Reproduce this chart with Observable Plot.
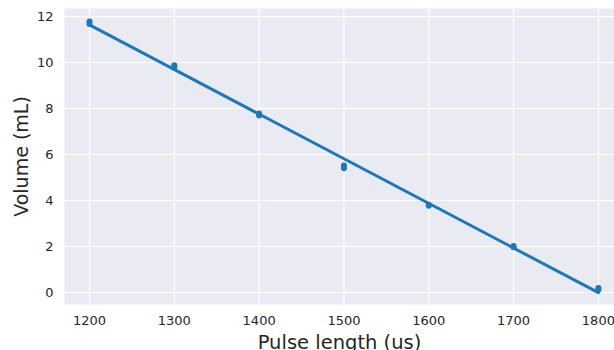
<!DOCTYPE html>
<html>
<head>
<meta charset="utf-8">
<script src="https://cdn.jsdelivr.net/npm/d3@7"></script>
<script src="https://cdn.jsdelivr.net/npm/@observablehq/plot@0.6"></script>
<style>
  html, body { margin: 0; padding: 0; background: #fff; overflow: hidden; }
  svg { display: block; }
</style>
</head>
<body>
<div id="chart"></div>
<script>
const pulseLengths = [1200, 1300, 1400, 1500, 1600, 1700, 1800];
const volumeRun1 = [11.78, 9.88, 7.78, 5.52, 3.82, 2.02, 0.20];
const volumeRun2 = [11.68, 9.80, 7.70, 5.40, 3.77, 1.97, 0.12];
const xTicks = [1200, 1300, 1400, 1500, 1600, 1700, 1800];
const yTicks = [0, 2, 4, 6, 8, 10, 12];
const xLabel = "Pulse length (us)";
const yLabel = "Volume (mL)";

const data = [];
pulseLengths.forEach((p, i) => {
  data.push({pulse: p, volume: volumeRun1[i]});
  data.push({pulse: p, volume: volumeRun2[i]});
});

const blue = "#1f77b4";
const ink = "#262626";

const chart = Plot.plot({
  width: 614,
  height: 350,
  marginLeft: 64,
  marginRight: 0,
  marginTop: 8,
  marginBottom: 46,
  style: {fontFamily: "DejaVu Sans", background: "#fff"},
  x: {domain: [1170.5, 1819], ticks: xTicks},
  y: {domain: [-0.52, 12.35], ticks: yTicks},
  marks: [
    Plot.frame({fill: "#EAEAF2", stroke: null}),
    Plot.gridX(xTicks, {stroke: "#fff", strokeOpacity: 1, strokeWidth: 1.1}),
    Plot.gridY(yTicks, {stroke: "#fff", strokeOpacity: 1, strokeWidth: 1.1}),
    Plot.axisX(xTicks, {tickSize: 0, tickPadding: 11, fontSize: 13, fill: ink, label: null, tickFormat: d3.format("d")}),
    Plot.axisY(yTicks, {tickSize: 0, tickPadding: 11, fontSize: 13, fill: ink, label: null, tickFormat: d3.format("d")}),
    Plot.linearRegressionY(data, {x: "pulse", y: "volume", ci: 0, stroke: blue, strokeWidth: 3}),
    Plot.dot(data, {x: "pulse", y: "volume", r: 3, fill: blue, stroke: null}),
    Plot.text([xLabel], {frameAnchor: "bottom", textAnchor: "middle", dy: 44, fontSize: 19.5, fill: ink}),
    Plot.text([yLabel], {frameAnchor: "left", textAnchor: "middle", rotate: -90, dx: -43, fontSize: 19, fill: ink})
  ]
});
document.getElementById("chart").appendChild(chart);
</script>
</body>
</html>
